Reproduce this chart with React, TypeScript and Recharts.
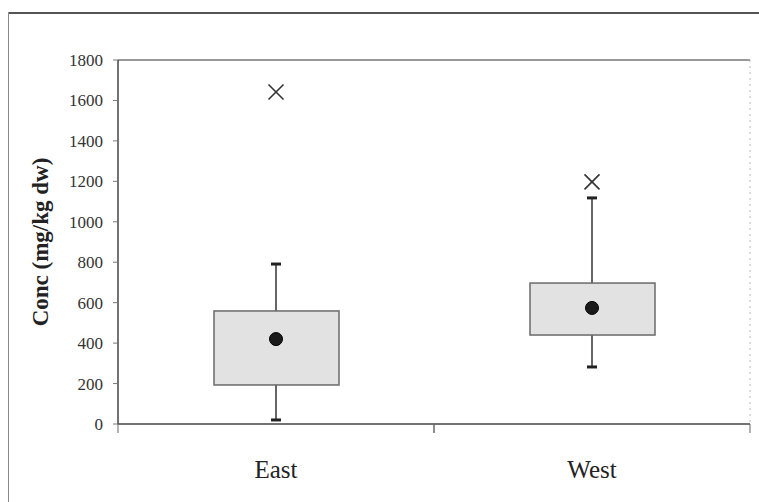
import React from 'react';
import { ComposedChart, Bar, Scatter, XAxis, YAxis, ReferenceLine } from 'recharts';

// Box plot values
const categories = ['East', 'West'];
const minVals = [20, 282];
const q1Vals = [193, 440];
const meanVals = [420, 574];
const q3Vals = [559, 697];
const maxVals = [791, 1118];
const outlierVals = [1642, 1197];
const yTicks = [0, 200, 400, 600, 800, 1000, 1200, 1400, 1600, 1800];

const data = categories.map((name, i) => ({
  name,
  box: [q1Vals[i], q3Vals[i]],
  whisker: [minVals[i], maxVals[i]],
  mean: meanVals[i],
  outlier: outlierVals[i],
}));

const FONT = '"Liberation Serif", "Times New Roman", serif';

const BoxShape = (props: any) => {
  const { x, y, width, height } = props;
  const top = Math.min(y, y + height);
  const h = Math.abs(height);
  return <rect x={x} y={top} width={width} height={h} fill="#e2e2e2" stroke="#6a6a6a" strokeWidth={1.5} />;
};

const WhiskerShape = (props: any) => {
  const { x, y, width, height } = props;
  const top = Math.min(y, y + height);
  const bottom = top + Math.abs(height);
  const cx = x + width / 2;
  return (
    <g>
      <line x1={cx} x2={cx} y1={top} y2={bottom} stroke="#333" strokeWidth={1.5} />
      <rect x={cx - 5} y={top - 1.5} width={10} height={3} fill="#222" />
      <rect x={cx - 5} y={bottom - 1.5} width={10} height={3} fill="#222" />
    </g>
  );
};

const MeanShape = (props: any) => (
  <circle cx={props.cx} cy={props.cy} r={6.5} fill="#1a1a1a" stroke="#000" />
);

const CrossShape = (props: any) => {
  const { cx, cy } = props;
  const s = 7.5;
  return (
    <g stroke="#333" strokeWidth={1.6}>
      <line x1={cx - s} y1={cy - s} x2={cx + s} y2={cy + s} />
      <line x1={cx - s} y1={cy + s} x2={cx + s} y2={cy - s} />
    </g>
  );
};

// category label plus Excel-style tick marks on the band edges
const CatTick = ({ x, y, payload }: any) => {
  const half = payload.offset || 0;
  const axisY = y - 8;
  return (
    <g>
      <line x1={x - half} x2={x - half} y1={axisY} y2={axisY + 9} stroke="#666" />
      <line x1={x + half} x2={x + half} y1={axisY} y2={axisY + 9} stroke="#666" />
      <text x={x} y={y + 46} textAnchor="middle" fontFamily={FONT} fontSize={25} fill="#222">
        {payload.value}
      </text>
    </g>
  );
};

export default function App() {
  return (
    <div style={{ position: 'absolute', left: 0, top: 0, width: 759, height: 502, background: '#fff' }}>
      {/* outer chart frame */}
      <div style={{ position: 'absolute', left: 8, top: 12, width: 751, height: 2, background: '#555' }} />
      <div style={{ position: 'absolute', left: 8, top: 12, width: 1, height: 490, background: '#888' }} />
      <ComposedChart
        width={759}
        height={502}
        data={data}
        margin={{ top: 60, right: 0, bottom: 18, left: 0 }}
        style={{ position: 'absolute', left: 0, top: 0 }}
      >
        <XAxis
          xAxisId="cat"
          dataKey="name"
          height={60}
          axisLine={{ stroke: '#444', strokeWidth: 1.5 }}
          tickLine={false}
          tick={<CatTick />}
        />
        <XAxis xAxisId="cat2" dataKey="name" hide />
        <YAxis
          yAxisId="l"
          width={118}
          domain={[0, 1800]}
          ticks={yTicks}
          tickSize={5}
          tickMargin={10}
          axisLine={{ stroke: '#444', strokeWidth: 1.5 }}
          tickLine={{ stroke: '#777' }}
          tick={{ fontFamily: FONT, fontSize: 17, fill: '#333' }}
          label={{
            value: 'Conc (mg/kg dw)',
            angle: -90,
            position: 'insideLeft',
            offset: 40,
            style: { fontFamily: FONT, fontSize: 23, fontWeight: 'bold', fill: '#222', textAnchor: 'middle' },
          }}
        />
        <YAxis
          yAxisId="r"
          orientation="right"
          width={9}
          domain={[0, 1800]}
          tick={false}
          tickLine={false}
          axisLine={{ stroke: '#bbb', strokeDasharray: '2 4' }}
        />
        <ReferenceLine yAxisId="l" xAxisId="cat" y={1800} stroke="#777" strokeWidth={1.5} />
        <Bar
          xAxisId="cat2"
          yAxisId="l"
          dataKey="whisker"
          barSize={10}
          shape={<WhiskerShape />}
          isAnimationActive={false}
        />
        <Bar
          xAxisId="cat"
          yAxisId="l"
          dataKey="box"
          barSize={125}
          shape={<BoxShape />}
          isAnimationActive={false}
        />
        <Scatter xAxisId="cat" yAxisId="l" dataKey="mean" shape={<MeanShape />} isAnimationActive={false} />
        <Scatter xAxisId="cat" yAxisId="l" dataKey="outlier" shape={<CrossShape />} isAnimationActive={false} />
      </ComposedChart>
    </div>
  );
}
